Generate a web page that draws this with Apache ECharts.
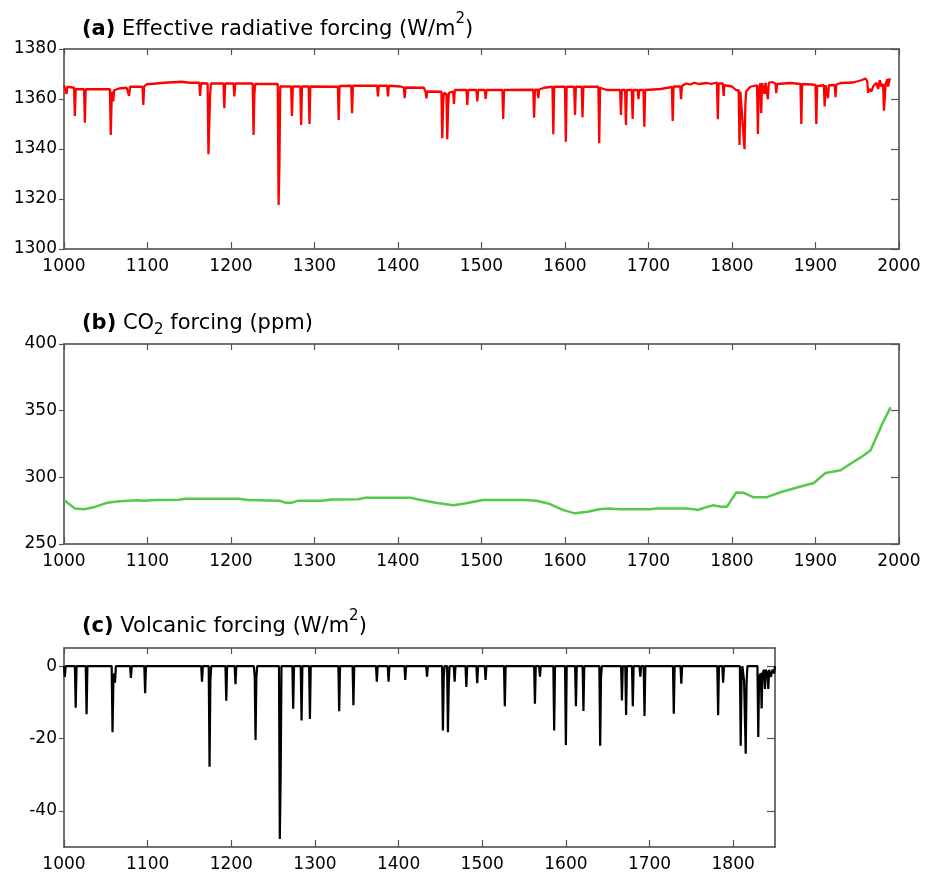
<!DOCTYPE html>
<html>
<head>
<meta charset="utf-8">
<script src="https://cdn.jsdelivr.net/npm/echarts@6/dist/echarts.min.js"></script>
<style>
  html, body { margin: 0; padding: 0; background: #fff; }
  #chart { width: 934px; height: 874px; }
</style>
</head>
<body>
<div id="chart"></div>
<script>
// (a) effective radiative forcing, W/m2  [year, value]
const erfPoints = [
  [1000,1365.5],[1002,1365],[1003,1362],[1004,1364.9],[1012,1364.5],[1013,1353.2],[1014,1364],[1024,1363.9],
  [1025,1350.5],[1026,1363.9],[1055,1363.9],[1056,1345.6],[1057,1359],[1058,1363],[1059,1359],[1060,1363.5],
  [1066,1364.2],[1075,1364.5],[1077,1364.9],[1078,1361.2],[1079,1364.9],[1094,1364.9],[1095,1357.6],[1096,1365],
  [1099,1365.9],[1110,1366.2],[1120,1366.5],[1141,1366.9],[1150,1366.5],[1162,1366.5],[1163,1361.2],[1164,1366.3],
  [1172,1366.2],[1173,1337.9],[1175,1362],[1176,1366.2],[1191,1366.2],[1192,1356.3],[1193,1366.2],[1203,1366.2],
  [1204,1361],[1205,1366.2],[1226,1366.2],[1227,1345.6],[1228,1362],[1229,1366],[1256,1366],[1257,1317.6],
  [1258,1334],[1259,1365],[1272,1365],[1273,1353.2],[1274,1365],[1283,1365],[1284,1349.6],[1285,1365],
  [1293,1365],[1294,1350],[1295,1365],[1328,1364.9],[1329,1351.6],[1330,1365.2],[1344,1365.3],[1345,1354.3],
  [1346,1365.3],[1375,1365.3],[1376,1361],[1377,1365.3],[1387,1365.3],[1388,1361],[1389,1365.3],[1403,1365],
  [1407,1364.6],[1408,1360.3],[1409,1364.6],[1431,1364.5],[1433,1363],[1434,1360.3],[1435,1363],[1452,1362.9],
  [1453,1344.3],[1454,1358],[1455,1362.5],[1458,1362],[1459,1343.9],[1460,1357],[1461,1362.5],[1466,1363],
  [1467,1358],[1468,1363.6],[1482,1363.6],[1483,1357.6],[1484,1363.6],[1494,1363.6],[1495,1359],[1496,1363.6],
  [1504,1363.6],[1505,1360],[1506,1363.6],[1525,1363.6],[1526,1352],[1527,1363.6],[1562,1363.7],[1563,1352.5],
  [1564,1363.7],[1567,1363.7],[1568,1360.3],[1569,1363.8],[1575,1364.5],[1585,1364.9],[1586,1345.9],[1587,1364.9],
  [1600,1364.9],[1601,1342.9],[1602,1364.9],[1611,1364.9],[1612,1353.6],[1613,1364.9],[1620,1364.9],[1621,1352.7],
  [1622,1364.9],[1640,1364.9],[1641,1342.3],[1642,1364.5],[1650,1363.6],[1666,1363.6],[1667,1353.6],[1668,1363.6],
  [1672,1363.6],[1673,1349.6],[1674,1363.6],[1680,1363.6],[1681,1352],[1682,1363.6],[1687,1363.6],[1688,1359.9],
  [1689,1363.6],[1694,1363.6],[1695,1348.9],[1696,1363.6],[1715,1364],[1728,1364.8],[1729,1351.2],[1730,1365],
  [1738,1365],[1739,1359.9],[1740,1365.2],[1745,1366.2],[1750,1365.8],[1755,1366.5],[1760,1366],[1770,1366.4],
  [1775,1366],[1782,1366.6],[1783,1351.9],[1784,1366.2],[1789,1366.2],[1790,1361.2],[1791,1365.5],[1800,1365],
  [1805,1363.5],[1808,1363.5],[1809,1341.6],[1810,1363],[1812,1363.5],[1815,1339.9],[1816,1358],[1817,1363],
  [1822,1364.9],[1830,1365.5],[1831,1346],[1832,1364],[1834,1366.3],[1835,1354.3],[1836,1366.4],[1838,1366.8],
  [1839,1362],[1840,1366.5],[1842,1366.4],[1843,1359.9],[1844,1366.5],[1848,1366.8],[1852,1366.2],[1853,1362.3],
  [1854,1366],[1870,1366.4],[1882,1366],[1883,1350],[1884,1366],[1895,1365.8],[1900,1365.6],[1901,1350],
  [1902,1365.2],[1910,1365.5],[1911,1357],[1912,1365.5],[1914,1365.5],[1915,1360.3],[1916,1365.5],[1923,1365.6],
  [1924,1360.7],[1925,1365.8],[1930,1366.4],[1945,1366.6],[1955,1367.5],[1960,1368.2],[1962,1367],[1963,1362.5],
  [1965,1364],[1967,1363],[1969,1365],[1971,1364.5],[1973,1366.5],[1975,1364],[1977,1367.5],[1979,1365],
  [1981,1366],[1982,1355.3],[1984,1366],[1986,1368],[1987,1365],[1989,1368.3]
];

// (b) CO2, ppm  [year, value]
const co2Points = [
  [1000,283],[1013,276.7],[1024,276],[1038,278],[1052,281],[1066,282],[1088,282.9],[1095,282.4],[1109,283],
  [1138,283.2],[1145,284],[1209,284],[1220,283],[1259,282.4],[1265,281],[1273,281],[1280,282.4],[1309,282.4],
  [1320,283.4],[1352,283.6],[1360,284.6],[1416,284.6],[1423,283.6],[1445,281],[1466,279],[1480,280.4],
  [1502,283],[1552,283],[1566,282.4],[1580,280.4],[1598,275.4],[1612,273],[1627,274.2],[1641,276],
  [1652,276.7],[1666,276],[1702,276],[1709,276.7],[1744,276.7],[1755,276],[1759,275.5],[1766,277],[1777,279],
  [1787,278],[1794,278],[1805,288.6],[1814,288.4],[1826,285],[1841,285],[1859,289],[1880,292.8],[1898,295.8],
  [1912,303.3],[1930,305.3],[1941,309.8],[1955,315.3],[1966,320.3],[1973,330.2],[1980,340.2],[1990,352.7]
];

// (c) volcanic forcing, W/m2  [year, value]
const volcPoints = [
  [1000,0],[1001,-3],[1002,0],[1013,0],[1014,-11.5],[1015,0],[1026,0],[1027,-13.3],[1028,0],[1057,0],
  [1058,-18.3],[1059,-5],[1060,-2],[1061,-4.6],[1062,0],[1079,0],[1080,-3.3],[1081,0],[1096,0],[1097,-7.5],
  [1098,0],[1164,0],[1165,-4.3],[1166,0],[1173,0],[1174,-27.8],[1175,-4],[1176,0],[1193,0],[1194,-9.6],
  [1195,0],[1204,0],[1205,-5],[1206,0],[1227,0],[1228,-3],[1229,-20.4],[1230,-3],[1231,0],[1257,0],
  [1258,-47.8],[1259,-31],[1260,0],[1273,0],[1274,-11.8],[1275,0],[1283,0],[1284,-15],[1285,0],[1293,0],
  [1294,-14.6],[1295,0],[1328,0],[1329,-12.5],[1330,0],[1345,0],[1346,-10.8],[1347,0],[1373,0],[1374,-4.3],
  [1375,0],[1387,0],[1388,-4.3],[1389,0],[1407,0],[1408,-3.8],[1409,0],[1433,0],[1434,-2.9],[1435,0],
  [1452,0],[1453,-17.8],[1454,-3],[1455,0],[1458,0],[1459,-18.3],[1460,-5],[1461,0],[1466,0],[1467,-4.3],
  [1468,0],[1480,0],[1481,-5.8],[1482,0],[1493,0],[1494,-4.7],[1495,0],[1503,0],[1504,-3.8],[1505,0],
  [1526,0],[1527,-11.1],[1528,0],[1562,0],[1563,-10.4],[1564,0],[1568,0],[1569,-2.9],[1570,0],[1585,0],
  [1586,-17.8],[1587,0],[1599,0],[1600,-21.8],[1601,0],[1611,0],[1612,-11.1],[1613,0],[1620,0],[1621,-12.4],
  [1622,0],[1640,0],[1641,-22],[1642,-3],[1643,0],[1666,0],[1667,-9.5],[1668,0],[1671,0],[1672,-13.5],
  [1673,0],[1679,0],[1680,-11.1],[1681,0],[1688,0],[1689,-2.9],[1690,0],[1693,0],[1694,-13.8],[1695,0],
  [1728,0],[1729,-13.2],[1730,0],[1737,0],[1738,-4.9],[1739,0],[1781,0],[1782,-13.6],[1783,0],[1787,0],
  [1788,-4.6],[1789,0],[1808,0],[1809,-22],[1810,-4],[1811,0],[1813,-4],[1815,-24.2],[1816,-5],[1817,0],
  [1829,0],[1830,-19.6],[1831,-3],[1833,-2],[1834,-11.7],[1835,-2],[1837,-1],[1838,-6.3],[1839,-1],
  [1841,-2],[1842,-6.3],[1843,-1],[1845,-3],[1847,-1],[1849,-2],[1850,0]
];

// tick values
const yearTicks = [1000,1100,1200,1300,1400,1500,1600,1700,1800,1900,2000];
const yearTicksC = [1000,1100,1200,1300,1400,1500,1600,1700,1800];
const erfTicks = [1300,1320,1340,1360,1380];
const co2Ticks = [250,300,350,400];
const volcTicks = [-40,-20,0];

const titles = [
  '{b|(a)} {n|Effective radiative forcing (W/m}{sup|2}{n|)}',
  '{b|(b)} {n|CO}{sub|2}{n| forcing (ppm)}',
  '{b|(c)} {n|Volcanic forcing (W/m}{sup|2}{n|)}'
];

const FONT = 'DejaVu Sans';
const frame = { show: true, onZero: false, lineStyle: { color: '#444', width: 1.5 } };
const tickStyle = { color: '#555', width: 1.2 };
const plain = (v) => String(v);

const titleRich = {
  b: { fontFamily: FONT, fontSize: 21, fontWeight: 'bold', color: '#000' },
  n: { fontFamily: FONT, fontSize: 21, fontWeight: 'normal', color: '#000' },
  sup: { fontFamily: FONT, fontSize: 15, fontWeight: 'normal', color: '#000', padding: [0, 0, 20, 0] },
  sub: { fontFamily: FONT, fontSize: 15, fontWeight: 'normal', color: '#000', padding: [14, 0, 0, 0] }
};

const grids = [
  { left: 64, top: 49, width: 835, height: 200 },
  { left: 64, top: 344, width: 835, height: 200 },
  { left: 64, top: 648, width: 711, height: 199 }
];
const xRanges = [[1000, 2000, yearTicks], [1000, 2000, yearTicks], [1000, 1850, yearTicksC]];
const yRanges = [[1300, 1380, erfTicks], [250, 400, co2Ticks], [-50, 5, volcTicks]];

const xAxes = [], yAxes = [];
grids.forEach((g, i) => {
  const [xmin, xmax, xt] = xRanges[i];
  const [ymin, ymax, yt] = yRanges[i];
  xAxes.push({
    type: 'value', gridIndex: i, min: xmin, max: xmax, position: 'bottom',
    axisLine: frame, splitLine: { show: false },
    axisTick: { show: true, inside: true, length: 7, lineStyle: tickStyle, customValues: xt },
    axisLabel: { show: true, customValues: xt, formatter: plain, margin: 9, fontFamily: FONT, fontSize: 17, color: '#000' }
  });
  xAxes.push({
    type: 'value', gridIndex: i, min: xmin, max: xmax, position: 'top',
    axisLine: frame, splitLine: { show: false },
    axisTick: { show: true, inside: true, length: 6, lineStyle: tickStyle, customValues: xt },
    axisLabel: { show: false }
  });
  yAxes.push({
    type: 'value', gridIndex: i, min: ymin, max: ymax, position: 'left',
    axisLine: frame, splitLine: { show: false },
    axisTick: { show: true, inside: false, length: 5, lineStyle: tickStyle, customValues: yt },
    axisLabel: { show: true, customValues: yt, formatter: plain, margin: 7, fontFamily: FONT, fontSize: 17, color: '#000' }
  });
  yAxes.push({
    type: 'value', gridIndex: i, min: ymin, max: ymax, position: 'right',
    axisLine: frame, splitLine: { show: false },
    axisTick: { show: true, inside: true, length: 8, lineStyle: tickStyle, customValues: yt },
    axisLabel: { show: false }
  });
});

const chart = echarts.init(document.getElementById('chart'), null, { renderer: 'canvas' });
chart.setOption({
  animation: false,
  backgroundColor: '#fff',
  title: [
    { text: titles[0], left: 77, top: 7, textStyle: { fontSize: 21, fontWeight: 'normal', fontFamily: FONT, rich: titleRich } },
    { text: titles[1], left: 77, top: 304, textStyle: { fontSize: 21, fontWeight: 'normal', fontFamily: FONT, rich: titleRich } },
    { text: titles[2], left: 77, top: 604, textStyle: { fontSize: 21, fontWeight: 'normal', fontFamily: FONT, rich: titleRich } }
  ],
  grid: grids,
  xAxis: xAxes,
  yAxis: yAxes,
  series: [
    {
      name: 'ERF', type: 'line', xAxisIndex: 0, yAxisIndex: 0, data: erfPoints,
      showSymbol: false, lineStyle: { color: '#ff0000', width: 2.3 }
    },
    {
      name: 'CO2', type: 'line', xAxisIndex: 2, yAxisIndex: 2, data: co2Points,
      showSymbol: false, lineStyle: { color: '#55c94a', width: 2.5 }
    },
    {
      name: 'Volcanic', type: 'line', xAxisIndex: 4, yAxisIndex: 4, data: volcPoints,
      showSymbol: false, lineStyle: { color: '#000', width: 2.2 }
    }
  ]
});
</script>
</body>
</html>
